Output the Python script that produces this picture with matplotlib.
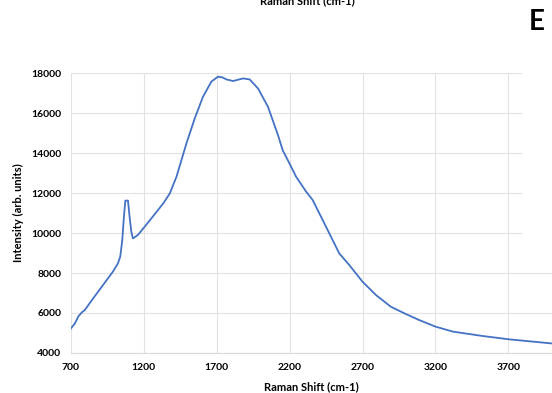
import numpy as np
import matplotlib
matplotlib.use('Agg')
import matplotlib.pyplot as plt
from matplotlib.patches import Rectangle

plt.rcParams['font.family'] = ['Lato', 'DejaVu Sans']

# Raman spectrum
shift = [700, 727, 750, 773, 795, 852, 920, 988, 1022, 1038, 1052, 1063, 1073, 1091,
         1102, 1114, 1125, 1159, 1205, 1270, 1333, 1378, 1424, 1492, 1549, 1606, 1663,
         1709, 1739, 1766, 1812, 1880, 1926, 1983, 2051, 2120, 2152, 2210, 2244, 2312,
         2358, 2415, 2472, 2540, 2609, 2700, 2792, 2894, 2997, 3088, 3200, 3319, 3524,
         3709, 3995]
intensity = [5230, 5480, 5820, 6020, 6150, 6730, 7400, 8070, 8480, 8820, 9650, 10810,
             11620, 11620, 10810, 10060, 9730, 9900, 10310, 10900, 11480, 11980, 12820,
             14480, 15730, 16820, 17570, 17820, 17780, 17680, 17600, 17730, 17680, 17230,
             16320, 14900, 14150, 13320, 12820, 12080, 11650, 10820, 9985, 8985, 8400,
             7565, 6900, 6315, 5950, 5650, 5320, 5070, 4850, 4680, 4480]

xticks = [700, 1200, 1700, 2200, 2700, 3200, 3700]
yticks = [4000, 6000, 8000, 10000, 12000, 14000, 16000, 18000]

fig = plt.figure(figsize=(5.52, 3.93), dpi=100)
ax = fig.add_axes([0.1286, 0.1018, 0.8714, 0.7124])

ax.plot(shift, intensity, color='#4472C4', lw=1.3, zorder=3)
ax.set_xlim(700, 4000)
ax.set_ylim(4000, 18000)
ax.set_xticks(xticks)
ax.set_yticks(yticks)
ax.grid(True, color='#e2e2e2', lw=0.8)
ax.set_axisbelow(True)
ax.tick_params(length=0, labelsize=7.5, pad=7)
for lab in ax.get_xticklabels() + ax.get_yticklabels():
    lab.set_fontweight('bold')
for s in ['top', 'right', 'left']:
    ax.spines[s].set_visible(False)
ax.spines['bottom'].set_color('#d9d9d9')

ax.set_xlabel('Raman Shift (cm-1)', fontsize=8, fontweight='bold', labelpad=7)
ax.set_ylabel('Intensity (arb. units)', fontsize=8, fontweight='bold', labelpad=5)

# cut-off title at top and the panel letter
fig.text(0.556, 0.999, 'Raman Shift (cm-1)', ha='center', va='center',
         fontsize=8, fontweight='bold')
# white box behind the panel letter hides the gridline ends
fig.patches.append(Rectangle((0.946, 0.36), 0.06, 0.65, transform=fig.transFigure,
                             facecolor='white', edgecolor='none', zorder=1))
fig.text(0.973, 0.943, 'E', ha='center', va='center', fontsize=20,
         fontweight='bold', zorder=2)

fig.savefig('out.png', dpi=100)
